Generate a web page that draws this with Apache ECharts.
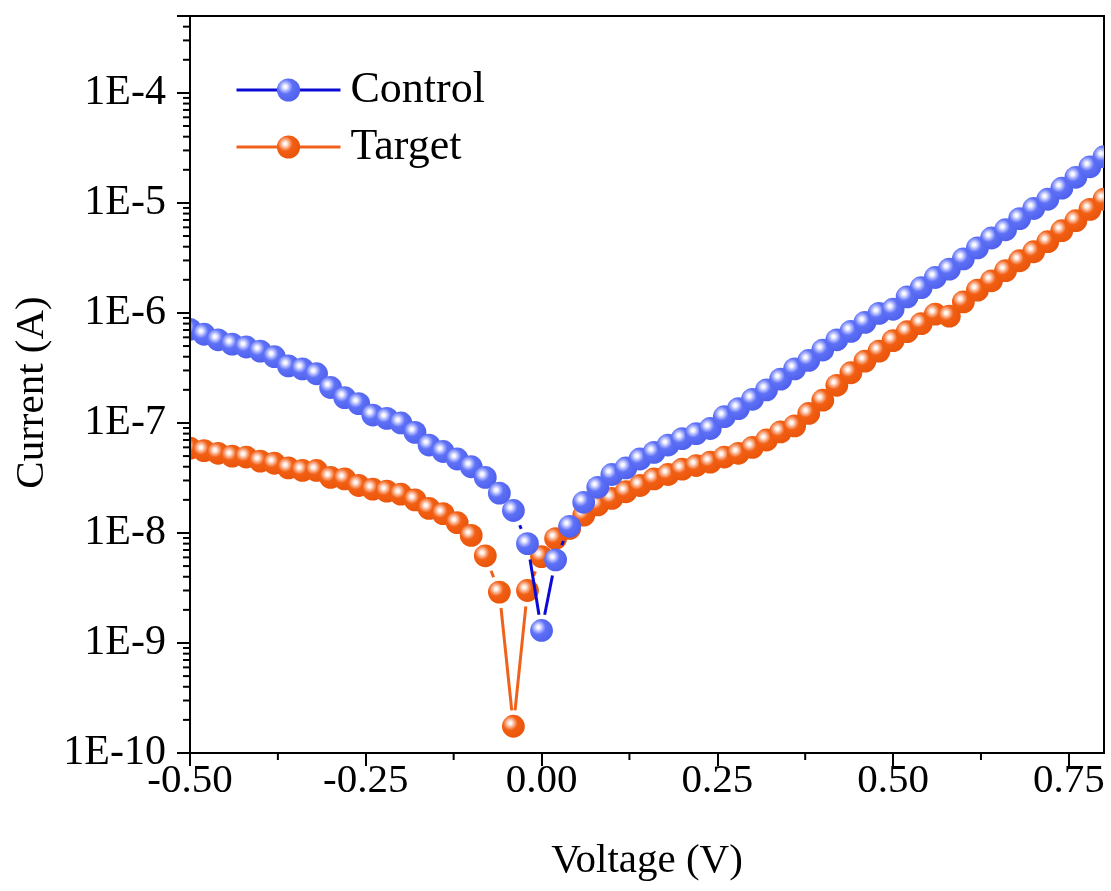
<!DOCTYPE html>
<html>
<head>
<meta charset="utf-8">
<script src="https://cdn.jsdelivr.net/npm/echarts@6/dist/echarts.min.js"></script>
<style>
  html, body { margin: 0; padding: 0; background: #ffffff; }
  #chart { width: 1111px; height: 891px; }
</style>
</head>
<body>
<div id="chart"></div>
<script>
// Bias voltage sweep (V)
const voltage = [
  -0.50, -0.48, -0.46, -0.44, -0.42, -0.40, -0.38, -0.36, -0.34, -0.32,
  -0.30, -0.28, -0.26, -0.24, -0.22, -0.20, -0.18, -0.16, -0.14, -0.12,
  -0.10, -0.08, -0.06, -0.04, -0.02,
   0.00,  0.02,  0.04,  0.06,  0.08,  0.10,  0.12,  0.14,  0.16,  0.18,
   0.20,  0.22,  0.24,  0.26,  0.28,  0.30,  0.32,  0.34,  0.36,  0.38,
   0.40,  0.42,  0.44,  0.46,  0.48,  0.50,  0.52,  0.54,  0.56,  0.58,
   0.60,  0.62,  0.64,  0.66,  0.68,  0.70,  0.72,  0.74,  0.76,  0.78, 0.80
];

// Measured current magnitude (A)
const controlCurrent = [
  7.1e-7, 6.4e-7, 5.7e-7, 5.2e-7, 4.9e-7, 4.5e-7, 4.0e-7, 3.3e-7, 3.1e-7, 2.8e-7,
  2.1e-7, 1.7e-7, 1.5e-7, 1.18e-7, 1.10e-7, 1.00e-7, 8.2e-8, 6.3e-8, 5.5e-8, 4.7e-8,
  4.0e-8, 3.2e-8, 2.3e-8, 1.6e-8, 8.0e-9,
  1.3e-9, 5.7e-9, 1.15e-8, 1.9e-8, 2.6e-8, 3.4e-8, 3.9e-8, 4.7e-8, 5.4e-8, 6.3e-8,
  7.2e-8, 8.0e-8, 8.9e-8, 1.14e-7, 1.35e-7, 1.64e-7, 2.0e-7, 2.5e-7, 3.1e-7, 3.7e-7,
  4.6e-7, 5.7e-7, 6.8e-7, 8.2e-7, 9.9e-7, 1.08e-6, 1.40e-6, 1.70e-6, 2.1e-6, 2.5e-6,
  3.1e-6, 3.9e-6, 4.8e-6, 5.7e-6, 7.2e-6, 8.9e-6, 1.08e-5, 1.36e-5, 1.71e-5, 2.13e-5, 2.63e-5
];

const targetCurrent = [
  5.9e-8, 5.6e-8, 5.3e-8, 5.0e-8, 4.9e-8, 4.5e-8, 4.3e-8, 3.9e-8, 3.7e-8, 3.7e-8,
  3.2e-8, 3.1e-8, 2.7e-8, 2.5e-8, 2.4e-8, 2.25e-8, 2.0e-8, 1.67e-8, 1.5e-8, 1.24e-8,
  9.5e-9, 6.2e-9, 2.9e-9, 1.75e-10, 3.0e-9,
  6.1e-9, 8.9e-9, 1.1e-8, 1.45e-8, 1.8e-8, 2.06e-8, 2.37e-8, 2.7e-8, 3.1e-8, 3.4e-8,
  3.8e-8, 4.1e-8, 4.4e-8, 4.9e-8, 5.3e-8, 6.0e-8, 7.0e-8, 8.3e-8, 9.4e-8, 1.22e-7,
  1.61e-7, 2.2e-7, 2.86e-7, 3.65e-7, 4.5e-7, 5.6e-7, 6.75e-7, 8.0e-7, 9.75e-7, 9.35e-7,
  1.26e-6, 1.61e-6, 1.96e-6, 2.42e-6, 2.98e-6, 3.6e-6, 4.44e-6, 5.59e-6, 6.89e-6, 8.73e-6, 1.08e-5
];

const seriesNames = ['Control', 'Target'];

// Axis ticks
const xTickValues = [-0.50, -0.25, 0.00, 0.25, 0.50, 0.75];
const xMinorTicks = [-0.375, -0.125, 0.125, 0.375, 0.625];
const X_MIN = -0.5, X_MAX = 0.8;
const Y_MIN = 1e-10, Y_MAX = 5e-4;

// Log minor ticks: 2..9 within each decade up to the top of the axis
const yMinorTicks = [];
for (let d = -10; d <= -4; d++) {
  for (let m = 2; m <= 9; m++) {
    const v = m * Math.pow(10, d);
    if (v < Y_MAX * 0.999) yMinorTicks.push(v);
  }
}

const FONT = "'Liberation Serif', 'Times New Roman', serif";
const MARKER_R = 11.4;   // sphere radius in px
const LINE_GAP = 16;     // connector stops this far from a marker centre

const colors = {
  Control: {
    line: '#0b0bd6',
    stops: [[0, '#ffffff'], [0.12, '#f2f3ff'], [0.32, '#a3adff'], [0.52, '#5d70f6'], [1, '#5163ee']]
  },
  Target: {
    line: '#f0621c',
    stops: [[0, '#ffffff'], [0.12, '#fff0e8'], [0.32, '#f8a37a'], [0.52, '#f25e12'], [1, '#ea560b']]
  }
};

function sphere(stops) {
  return new echarts.graphic.RadialGradient(0.36, 0.36, 0.62,
    stops.map(s => ({ offset: s[0], color: s[1] })));
}

function pairs(ys) {
  return voltage.map((v, i) => [v, ys[i]]);
}

// Line series: carries the data and the legend icon (line + sphere)
function legendSeries(name, ys) {
  return {
    type: 'line', name, data: pairs(ys),
    symbol: 'circle', showSymbol: false, silent: true, z: 1,
    lineStyle: { color: colors[name].line, width: 3, opacity: 0 },
    itemStyle: { color: sphere(colors[name].stops) },
    emphasis: { disabled: true }
  };
}

// Connector segments that stop short of the markers
function segmentSeries(name, ys, z) {
  return {
    type: 'custom', name, data: pairs(ys), encode: { x: 0, y: 1 },
    clip: true, silent: true, z,
    renderItem(params, api) {
      const i = params.dataIndexInside;
      if (i >= params.dataInsideLength - 1) return null;
      const a = api.coord([api.value(0, i), api.value(1, i)]);
      const b = api.coord([api.value(0, i + 1), api.value(1, i + 1)]);
      const dx = b[0] - a[0], dy = b[1] - a[1];
      const len = Math.hypot(dx, dy);
      if (len <= 2 * LINE_GAP) return null;
      const ux = dx / len, uy = dy / len;
      return {
        type: 'line',
        shape: {
          x1: a[0] + ux * LINE_GAP, y1: a[1] + uy * LINE_GAP,
          x2: b[0] - ux * LINE_GAP, y2: b[1] - uy * LINE_GAP
        },
        style: { stroke: colors[name].line, lineWidth: 3 }
      };
    }
  };
}

// Shaded sphere markers, clipped to the plot frame
function markerSeries(name, ys, z) {
  return {
    type: 'custom', name, data: pairs(ys), encode: { x: 0, y: 1 },
    clip: true, silent: true, z,
    renderItem(params, api) {
      const p = api.coord([api.value(0), api.value(1)]);
      return {
        type: 'circle',
        shape: { cx: p[0], cy: p[1], r: MARKER_R },
        style: { fill: sphere(colors[name].stops) }
      };
    }
  };
}

// Minor tick marks on the left and bottom axes
const yMinorSeries = {
  type: 'custom', data: yMinorTicks.map(v => [X_MIN, v]), encode: { x: 0, y: 1 },
  clip: false, silent: true, z: 20,
  renderItem(params, api) {
    const p = api.coord([X_MIN, api.value(1)]);
    return { type: 'line', shape: { x1: p[0] - 7, y1: p[1], x2: p[0], y2: p[1] },
             style: { stroke: '#000', lineWidth: 2 } };
  }
};
const xMinorSeries = {
  type: 'custom', data: xMinorTicks.map(v => [v, Y_MIN]), encode: { x: 0, y: 1 },
  clip: false, silent: true, z: 20,
  renderItem(params, api) {
    const p = api.coord([api.value(0), Y_MIN]);
    return { type: 'line', shape: { x1: p[0], y1: p[1], x2: p[0], y2: p[1] + 7 },
             style: { stroke: '#000', lineWidth: 2 } };
  }
};

const chart = echarts.init(document.getElementById('chart'), null, { renderer: 'canvas' });

chart.setOption({
  animation: false,
  backgroundColor: '#ffffff',
  grid: {
    left: 190, right: 7, top: 16, bottom: 138,
    show: true, borderColor: '#000', borderWidth: 2, backgroundColor: 'transparent'
  },
  legend: {
    data: seriesNames,
    orient: 'vertical',
    left: 230, top: 63,
    itemWidth: 104, itemHeight: 29, itemGap: 13,
    selectedMode: false,
    lineStyle: { width: 3, opacity: 1 },
    textStyle: { fontFamily: FONT, fontSize: 44, color: '#000', padding: [0, 0, 0, 5] }
  },
  xAxis: {
    type: 'value', min: X_MIN, max: X_MAX, interval: 0.25, z: 10,
    name: 'Voltage (V)', nameLocation: 'middle', nameGap: 88,
    nameTextStyle: { fontFamily: FONT, fontSize: 41, color: '#000' },
    axisLine: { show: true, onZero: false, lineStyle: { color: '#000', width: 2 } },
    axisTick: { show: true, customValues: xTickValues, length: 13, lineStyle: { color: '#000', width: 2 } },
    axisLabel: {
      customValues: xTickValues,
      fontFamily: FONT, fontSize: 41, color: '#000', margin: 8,
      formatter: v => (Math.abs(v - X_MAX) < 1e-9 ? '' : v.toFixed(2))
    },
    splitLine: { show: false }
  },
  yAxis: {
    type: 'log', logBase: 10, min: Y_MIN, max: Y_MAX, z: 10,
    name: 'Current (A)', nameLocation: 'middle', nameGap: 132,
    nameTextStyle: { fontFamily: FONT, fontSize: 41, color: '#000', padding: [0, 16, 0, 0] },
    axisLine: { show: true, onZero: false, lineStyle: { color: '#000', width: 2 } },
    axisTick: { show: true, length: 13, lineStyle: { color: '#000', width: 2 } },
    axisLabel: {
      fontFamily: FONT, fontSize: 42, color: '#000', margin: 24,
      formatter: v => {
        const e = Math.log10(v);
        const k = Math.round(e);
        return Math.abs(e - k) < 1e-6 ? '1E' + k : '';
      }
    },
    splitLine: { show: false }
  },
  series: [
    legendSeries('Control', controlCurrent),
    legendSeries('Target', targetCurrent),
    segmentSeries('Target', targetCurrent, 2),
    markerSeries('Target', targetCurrent, 3),
    segmentSeries('Control', controlCurrent, 4),
    markerSeries('Control', controlCurrent, 5),
    yMinorSeries,
    xMinorSeries
  ]
});
</script>
</body>
</html>
